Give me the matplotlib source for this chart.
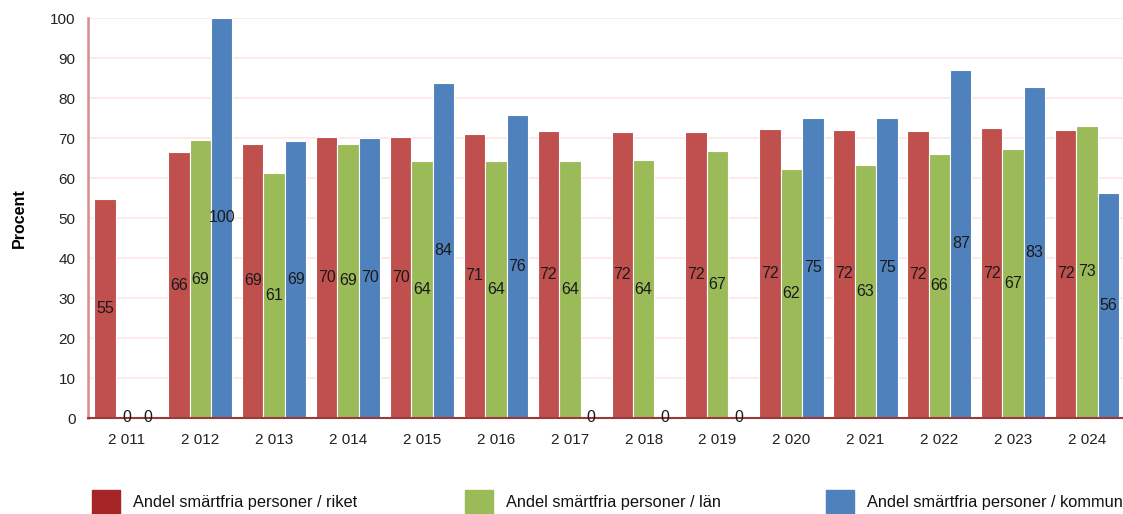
import numpy as np
import matplotlib
matplotlib.use("Agg")
import matplotlib.pyplot as plt
from matplotlib.patches import Rectangle

plt.rcParams['font.family'] = ['Liberation Sans', 'DejaVu Sans']

years = ["2 011", "2 012", "2 013", "2 014", "2 015", "2 016", "2 017",
         "2 018", "2 019", "2 020", "2 021", "2 022", "2 023", "2 024"]
riket = [54.8, 66.4, 68.6, 70.3, 70.3, 71.0, 71.8, 71.6, 71.6, 72.2, 72.0, 71.8, 72.4, 72.1]
lan = [0, 69.4, 61.3, 68.6, 64.2, 64.3, 64.3, 64.4, 66.8, 62.3, 63.3, 66.0, 67.2, 73.0]
kommun = [0, 100, 69.2, 70.0, 83.8, 75.8, 0, 0, 0, 75.0, 75.0, 87.0, 82.8, 56.2]

series_names = ["Andel smärtfria personer / riket",
                "Andel smärtfria personer / län",
                "Andel smärtfria personer / kommun"]
bar_colors = ["#C0504D", "#9BBB59", "#4F81BD"]
legend_colors = ["#A52526", "#9BBB59", "#4F81BD"]

fig = plt.figure(figsize=(11.23, 5.14), dpi=100)
ax = fig.add_axes([88 / 1123, 96 / 514, 1036 / 1123, 400 / 514])

x = np.arange(len(years))
w = 0.29
for i, (vals, col) in enumerate(zip([riket, lan, kommun], bar_colors)):
    pos = x + (i - 1) * w
    ax.bar(pos, vals, width=w, color=col, edgecolor="white", linewidth=0.8, zorder=2)
    for xp, v in zip(pos, vals):
        ax.text(xp, v / 2, f"{round(v)}", ha="center", va="center",
                fontsize=11.5, color="#1a1a1a", zorder=5)

ax.set_xlim(-0.52, len(years) - 0.5)
ax.set_ylim(0, 100)
ax.set_yticks(range(0, 101, 10))
ax.set_xticks(x)
ax.set_xticklabels(years)
ax.tick_params(axis="both", length=0, labelsize=11, colors="#222222")
ax.tick_params(axis="x", pad=11)
ax.tick_params(axis="y", pad=9)
ax.grid(axis="y", color="#FFEAEA", linewidth=1.5, zorder=0)
ax.set_axisbelow(True)

for s in ["top", "right"]:
    ax.spines[s].set_visible(False)
ax.spines["left"].set_color("#D98C8C")
ax.spines["left"].set_linewidth(1.8)
ax.spines["bottom"].set_color("#9A3A3A")
ax.spines["bottom"].set_linewidth(1.5)
ax.spines["bottom"].set_zorder(4)

ax.set_ylabel("Procent", fontsize=11.5, fontweight="bold", labelpad=17)

# legend row along the bottom edge
legend_x = [92, 465, 826]
for lx, col, name in zip(legend_x, legend_colors, series_names):
    fig.patches.append(Rectangle((lx / 1123, 0), 28 / 1123, 24 / 514,
                                 transform=fig.transFigure, color=col))
    fig.text((lx + 41) / 1123, 11 / 514, name, fontsize=11.8, va="center",
             color="#111111")

fig.savefig("out.png", dpi=100)
